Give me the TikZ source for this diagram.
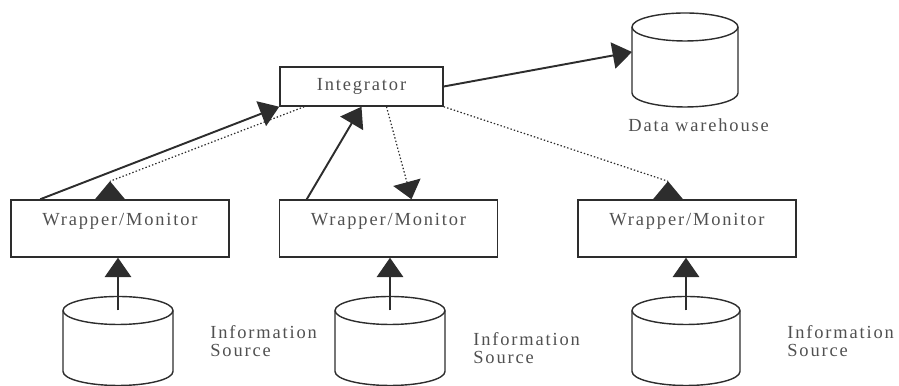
\documentclass[tikz,border=0pt]{standalone}
\usepackage{fontspec}
\setmainfont{Liberation Serif}[LetterSpace=10]
\usepackage{tikz}
\usetikzlibrary{shapes.geometric,arrows.meta,positioning,calc}
\definecolor{inkgrey}{RGB}{45,45,45}
\definecolor{textgrey}{RGB}{80,80,80}

\tikzset{
    pics/dbase/.style n args={2}{code={
        \draw[inkgrey, line width=0.8pt]
            ({-#1/2},{#2/2-0.28}) -- ({-#1/2},{-#2/2+0.28})
            arc (180:360:{#1/2} and 0.28) -- ({#1/2},{#2/2-0.28})
            arc (0:180:{#1/2} and 0.28) -- cycle;
        \draw[inkgrey, line width=0.8pt]
            ({-#1/2},{#2/2-0.28}) arc (180:360:{#1/2} and 0.28);
        \coordinate (-top) at (0,{#2/2-0.28});
        \coordinate (-west) at ({-#1/2},0);
    }}
}

\begin{document}
\begin{tikzpicture}[
    wbox/.style={rectangle, draw=inkgrey, line width=0.85pt, inner sep=0pt,
        minimum width=4.36cm, text height=0.52cm, text depth=0.62cm,
        text=textgrey, font=\fontsize{10.5}{10.5}\selectfont},
    ibox/.style={rectangle, draw=inkgrey, line width=0.85pt, inner sep=0pt,
        minimum width=3.26cm, minimum height=0.78cm,
        text=textgrey, font=\fontsize{10.5}{10.5}\selectfont},
    lbl/.style={text=textgrey, align=left, inner sep=0pt,
        font=\fontsize{10.5}{10.5}\selectfont},
    arr/.style={-{Triangle[length=11pt, width=15pt]}, line width=1.1pt, inkgrey},
    dots/.style={line width=0.7pt, inkgrey, dash pattern=on 0.8pt off 1.2pt},
    head/.style={fill=inkgrey}
]
    \useasboundingbox (0,0) rectangle (17.98,7.72);

    \node[ibox] (int) at (7.23,5.99) {Integrator};
    \pic (dw) at (13.70,6.52) {dbase={2.12}{1.88}};
    \node[lbl, anchor=base west] (dwl) at (12.56,5.08) {Data warehouse};

    \node[wbox] (w1) at (2.40,3.15) {Wrapper/Monitor};
    \node[wbox] (w2) at (7.77,3.15) {Wrapper/Monitor};
    \node[wbox] (w3) at (13.74,3.15) {Wrapper/Monitor};

    \pic (s1) at (2.36,0.90) {dbase={2.2}{1.78}};
    \pic (s2) at (7.80,0.90) {dbase={2.2}{1.78}};
    \pic (s3) at (13.72,0.90) {dbase={2.16}{1.78}};
    \node[lbl, anchor=west] (l1) at (4.20,0.90) {Information\\Source};
    \node[lbl, anchor=west] (l2) at (9.46,0.76) {Information\\Source};
    \node[lbl, anchor=west] (l3) at (15.74,0.90) {Information\\Source};

    % sources up to the wrappers
    \draw[arr] (s1-top) -- (s1-top |- w1.south);
    \draw[arr] (s2-top) -- (s2-top |- w2.south);
    \draw[arr] (s3-top) -- (s3-top |- w3.south);

    % wrappers and integrator
    \draw[arr] ([xshift=0.6cm]w1.north west) -- (int.south west);
    \draw[dots] ([xshift=0.5cm]int.south west) -- ([xshift=-0.2cm,yshift=0.36cm]w1.north);
    \fill[head] ([xshift=-0.2cm]w1.north) ++(-0.3,0) -- ++(0.6,0) -- ++(-0.3,0.36) -- cycle;
    \draw[arr] ([xshift=0.56cm]w2.north west) -- (int.south);
    \draw[dots, -{Triangle[length=10pt, width=16pt]}] ([xshift=0.5cm]int.south) -- ([xshift=0.46cm]w2.north);
    \draw[dots] (int.south east) -- ([xshift=-0.38cm,yshift=0.36cm]w3.north);
    \fill[head] ([xshift=-0.38cm]w3.north) ++(-0.3,0) -- ++(0.6,0) -- ++(-0.3,0.36) -- cycle;

    \draw[arr] (int.east) -- ([yshift=0.16cm]dw-west);
\end{tikzpicture}
\end{document}
